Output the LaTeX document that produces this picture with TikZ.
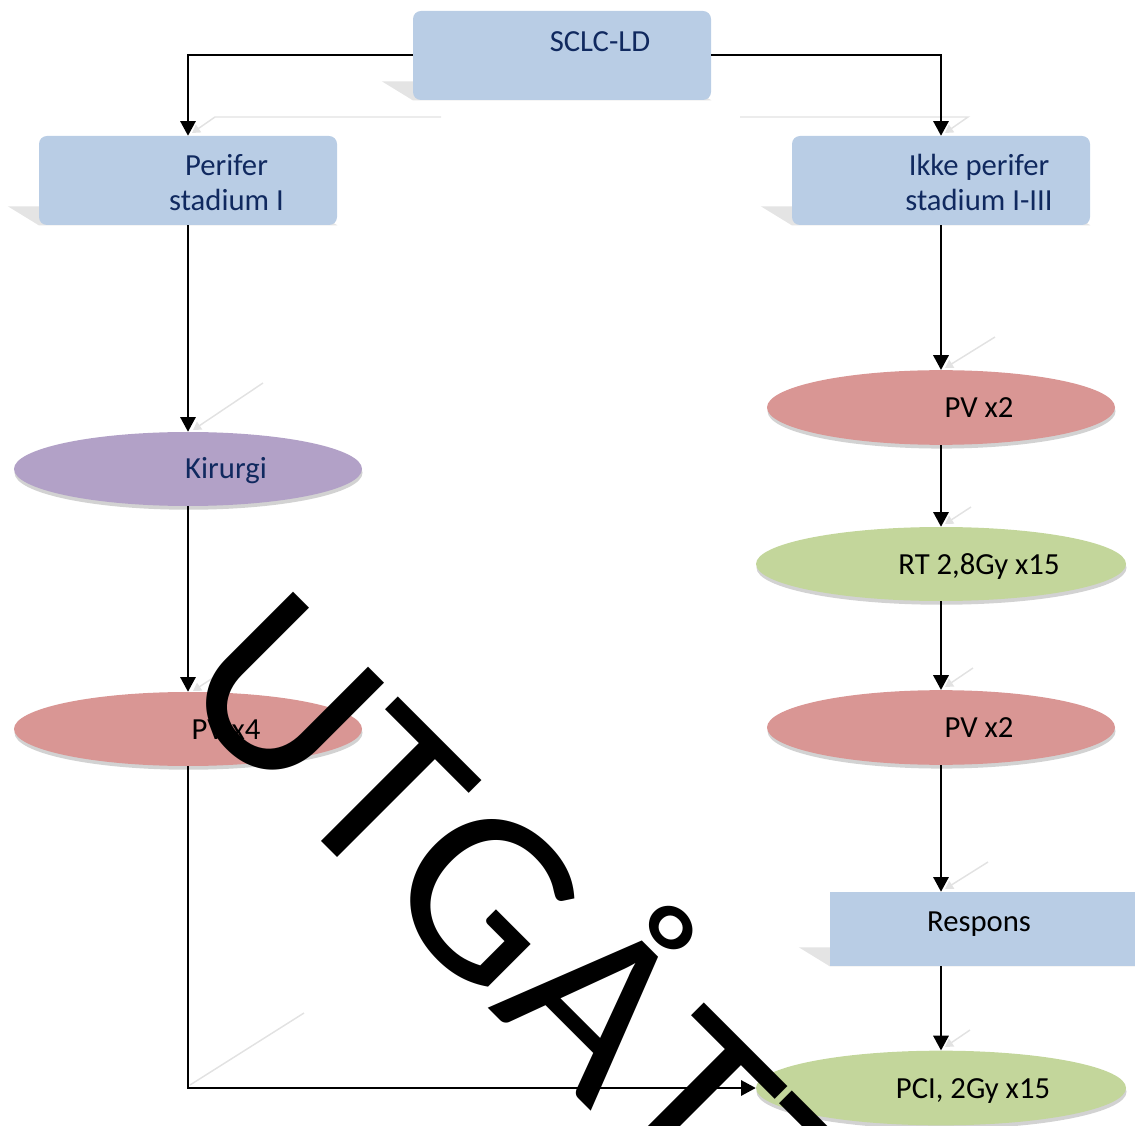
\documentclass[tikz,border=0pt]{standalone}
\usepackage{fontspec}
\setmainfont{Carlito}
\newfontfamily\wmfont{Carlito}[Kerning=Off]
\usetikzlibrary{arrows.meta,shapes.geometric,shadows,backgrounds,calc}
\definecolor{boxblue}{HTML}{B9CDE5}
\definecolor{navy}{HTML}{10295F}
\definecolor{purp}{HTML}{B2A1C7}
\definecolor{redel}{HTML}{D99694}
\definecolor{greenel}{HTML}{C3D69B}
\definecolor{boxshadow}{HTML}{E4E4E4}
\definecolor{elshadow}{HTML}{D2D2D2}
\definecolor{ghost}{HTML}{E2E2E2}
\begin{document}
\begin{tikzpicture}[x=0.75pt,y=-0.75pt,
  boxnode/.style={draw=none, fill=boxblue, rounded corners=6pt, minimum width=223.5pt, minimum height=66.75pt, inner sep=0pt},
  ellnode/.style={ellipse, draw=none, inner sep=0pt, drop shadow={shadow xshift=0.4pt, shadow yshift=-2.8pt, fill=elshadow, opacity=1}},
  conn/.style={draw=black, line width=1.5pt, -{Triangle[width=11.5pt,length=11pt]}},
  ghostline/.style={draw=ghost, line width=1.1pt, -{Triangle[width=7pt,length=6pt]}},
  lblnavy/.style={font=\fontsize{23}{26}\selectfont, text=navy, inner sep=0pt, anchor=base},
  lblblack/.style={font=\fontsize{23}{26}\selectfont, text=black, inner sep=0pt, anchor=base},
  wmark/.style={font=\wmfont\fontsize{183}{183}\selectfont, text=black, inner sep=0pt, anchor=base west, rotate=-45, xscale=1.045}
]
\useasboundingbox (0,0) rectangle (1135,1126);
\clip (0,0) rectangle (1135,1126);

% shape nodes
\node[boxnode] (sclc) at (562,55.5) {};
\node[boxnode] (per) at (188,180.5) {};
\node[boxnode] (ikke) at (941,180.5) {};
\node[ellnode, fill=purp, minimum width=261pt, minimum height=55.5pt] (kir) at (188,469) {};
\node[ellnode, fill=redel, minimum width=261pt, minimum height=55.5pt] (pv4) at (188,729) {};
\node[ellnode, fill=redel, minimum width=261pt, minimum height=56pt] (pv2a) at (941,407.5) {};
\node[ellnode, fill=greenel, minimum width=277.5pt, minimum height=55.5pt] (rt) at (941,564) {};
\node[ellnode, fill=redel, minimum width=261pt, minimum height=56pt] (pv2b) at (941,727.5) {};
\node[draw=none, fill=boxblue, minimum width=232.5pt, minimum height=55.5pt, inner sep=0pt] (resp) at (985,929) {};
\node[ellnode, fill=greenel, minimum width=277.5pt, minimum height=56pt] (pci) at (941,1088) {};

% perspective shadows and ghost connectors
\begin{scope}[on background layer]
  \foreach \n in {sclc,per,ikke,resp}{
    \fill[boxshadow] (\n.south west) -- (\n.south east) -- ++(-31,-19) -- ($(\n.south west)+(-31,-19)$) -- cycle;
  }
  \draw[ghostline] (441,117) -- (215,117) -- (192,133);
  \draw[ghostline] (740,117) -- (968,117) -- (945,133);
  \draw[ghostline] (263,383) -- (193,430);
  \draw[ghostline] (263,645) -- (193,691);
  \draw[ghostline] (995,337) -- (945,368);
  \draw[ghostline] (971,507) -- (945,524);
  \draw[ghostline] (973,668) -- (945,687);
  \draw[ghostline] (988,862) -- (945,889);
  \draw[ghostline] (970,1030) -- (945,1047);
  \draw[draw=ghost, line width=1.1pt] (304,1013) -- (190,1085);
\end{scope}

% labels
\node[lblnavy] (tsclc) at (600,51.5) {SCLC-LD};
\node[lblnavy] (tper1) at (226.5,176) {Perifer};
\node[lblnavy] (tper2) at (226.5,211) {stadium I};
\node[lblnavy] (tikke1) at (979,176) {Ikke perifer};
\node[lblnavy] (tikke2) at (979,211) {stadium I-III};
\node[lblnavy] (tkir) at (226,479) {Kirurgi};
\node[lblblack] (tpv4) at (226,739) {PV x4};
\node[lblblack] (tpv2a) at (979,418) {PV x2};
\node[lblblack] (trt) at (979,574) {RT 2,8Gy x15};
\node[lblblack] (tpv2b) at (979,737) {PV x2};
\node[lblblack] (tresp) at (979,931) {Respons};
\node[lblblack] (tpci) at (973,1098) {PCI, 2Gy x15};

% connectors
\draw[conn] (sclc.west) -| (per.north);
\draw[conn] (sclc.east) -| (ikke.north);
\draw[conn] (per.south) -- (kir.north);
\draw[conn] (kir.south) -- (pv4.north);
\draw[conn] (ikke.south) -- (pv2a.north);
\draw[conn] (pv2a.south) -- (rt.north);
\draw[conn] (rt.south) -- (pv2b.north);
\draw[conn] (pv2b.south) -- (pv2b.south |- resp.north);
\draw[conn] (pci.north |- resp.south) -- (pci.north);
\draw[conn] (pv4.south) |- (pci.west);

% watermark
\node[wmark] (wm) at (170,690) {UTGÅTT};
\end{tikzpicture}
\end{document}
